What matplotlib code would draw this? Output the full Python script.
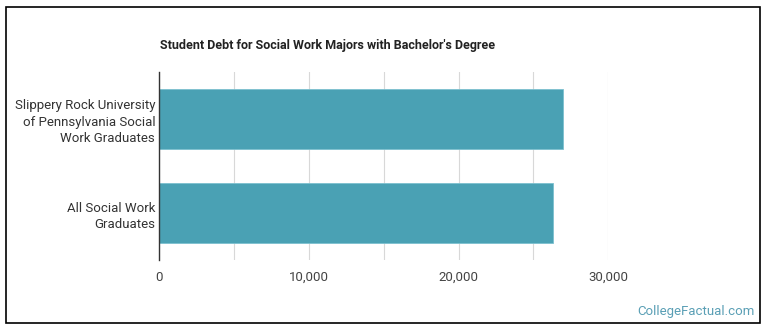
import matplotlib.pyplot as plt
from matplotlib.patches import Rectangle
from matplotlib.ticker import MultipleLocator, FuncFormatter

plt.rcParams['font.family'] = ['Roboto', 'DejaVu Sans']

# data
labels = ['Slippery Rock University\nof Pennsylvania Social\nWork Graduates',
          'All Social Work\nGraduates']
debt = [26990, 26320]

fig = plt.figure(figsize=(7.7, 3.35), dpi=100)
ax = fig.add_axes([159.3 / 770, 1 - 260 / 335, (608.3 - 159.3) / 770, (260 - 72.3) / 335])

ypos = [1, 0]
ax.barh(ypos, debt, height=0.64, color='#4aa1b4', edgecolor='#7cc0cf', linewidth=0.6, zorder=3)
ax.set_ylim(-0.5, 1.5)
ax.set_xlim(0, 30000)
ax.set_yticks(ypos)
ax.set_yticklabels(labels, fontsize=9.5, color='#333333', linespacing=1.35)

ax.xaxis.set_major_locator(MultipleLocator(10000))
ax.xaxis.set_minor_locator(MultipleLocator(5000))
ax.xaxis.set_major_formatter(FuncFormatter(lambda v, p: f'{int(v):,}'))
ax.tick_params(axis='x', which='both', length=0, labelsize=9.5, labelcolor='#444444', pad=8)
ax.tick_params(axis='y', length=0, pad=3)
ax.grid(axis='x', which='both', color='#d8d8d8', linewidth=0.8, zorder=0)

for s in ['top', 'right', 'bottom']:
    ax.spines[s].set_visible(False)
ax.spines['left'].set_color('#333333')
ax.spines['left'].set_linewidth(1)
ax.spines['left'].set_zorder(4)

fig.text(160 / 770, 1 - 45 / 335, "Student Debt for Social Work Majors with Bachelor's Degree",
         fontsize=9, fontweight='bold', color='#222222', va='center', ha='left')
fig.text(755 / 770, 1 - 312 / 335, 'CollegeFactual.com', fontsize=9.5, color='#5a9fb5',
         ha='right', va='center')

fig.patches.append(Rectangle((6 / 770, 1 - 323 / 335), (760 - 6) / 770, (323 - 7) / 335,
                             transform=fig.transFigure, fill=False, edgecolor='black', linewidth=1.2))

fig.savefig('out.png', dpi=100)
